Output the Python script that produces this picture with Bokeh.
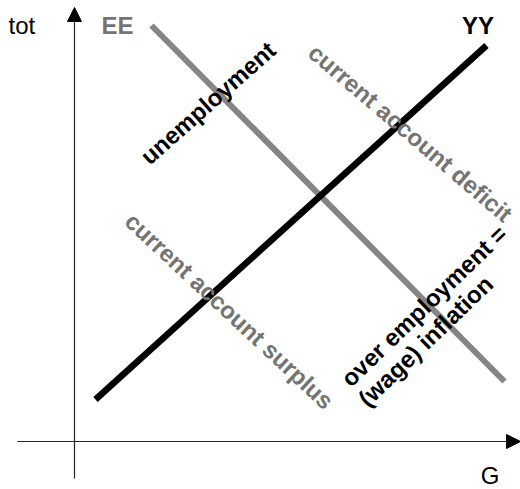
from bokeh.plotting import figure
from bokeh.models import Range1d, Arrow, NormalHead
from bokeh.core.properties import value
from bokeh.embed import file_html
from bokeh.resources import INLINE

# ---- data (G on x, tot on y; arbitrary units, origin at axis crossing) ----
ee_G = [7.7, 43.0]
ee_tot = [41.6, 6.0]
yy_G = [2.1, 41.2]
yy_tot = [4.2, 39.6]

curve_names = ["EE", "YY"]
axis_names = ["tot", "G"]
region_labels = ["unemployment", "current account deficit",
                 "current account surplus", "over employment =", "(wage) inflation"]

FONT = value("Liberation Sans")
FS = "24px"
GREY_LINE = "#858585"
GREY_TEXT = "#747474"

p = figure(width=520, height=489, output_backend="svg", toolbar_location=None,
           x_range=Range1d(-7.4, 44.6), y_range=Range1d(-4.8, 44.1),
           min_border=0, outline_line_color=None, background_fill_color="white")
p.axis.visible = False
p.grid.visible = False

# axes with arrow heads
p.add_layout(Arrow(x_start=0, y_start=-3.7, x_end=0, y_end=43.4,
                   line_color="#222222", line_width=1.2,
                   end=NormalHead(size=14, fill_color="black", line_color="black", line_width=1)))
p.add_layout(Arrow(x_start=-5.7, y_start=0, x_end=44.6, y_end=0,
                   line_color="#222222", line_width=1.2,
                   end=NormalHead(size=14, fill_color="black", line_color="black", line_width=1)))

# curves
p.line(ee_G, ee_tot, line_color=GREY_LINE, line_width=6)
p.line(yy_G, yy_tot, line_color="black", line_width=6.5)

# axis names
p.text(x=[-6.6], y=[41.6], text=[axis_names[0]], text_font=FONT, text_font_size=FS,
       text_color="black", text_align="left", text_baseline="middle")
p.text(x=[41.55], y=[-3.4], text=[axis_names[1]], text_font=FONT, text_font_size=FS,
       text_color="black", text_align="center", text_baseline="middle")

# curve names
p.text(x=[2.7], y=[41.6], text=[curve_names[0]], text_font=FONT, text_font_size=FS,
       text_font_style="bold", text_color=GREY_TEXT, text_align="left", text_baseline="middle")
p.text(x=[40.35], y=[41.6], text=[curve_names[1]], text_font=FONT, text_font_size=FS,
       text_font_style="bold", text_color="black", text_align="center", text_baseline="middle")

# region labels
p.text(x=[13.35], y=[33.85], text=[region_labels[0]], angle=[41.5], angle_units="deg",
       text_font=FONT, text_font_size=FS, text_font_style="bold", text_color="black",
       text_align="center", text_baseline="middle")
p.text(x=[33.6], y=[30.85], text=[region_labels[1]], angle=[-40.5], angle_units="deg",
       text_font=FONT, text_font_size=FS, text_font_style="bold", text_color=GREY_TEXT,
       text_align="center", text_baseline="middle")
p.text(x=[15.5], y=[13.05], text=[region_labels[2]], angle=[-43], angle_units="deg",
       text_font=FONT, text_font_size=FS, text_font_style="bold", text_color=GREY_TEXT,
       text_align="center", text_baseline="middle")
p.text(x=[34.95, 35.1], y=[13.55, 10.05], text=region_labels[3:5], angle=[44, 44], angle_units="deg",
       text_font=FONT, text_font_size=FS, text_font_style="bold", text_color="black",
       text_align="center", text_baseline="middle")

open("out.html", "w").write(file_html(p, INLINE))
